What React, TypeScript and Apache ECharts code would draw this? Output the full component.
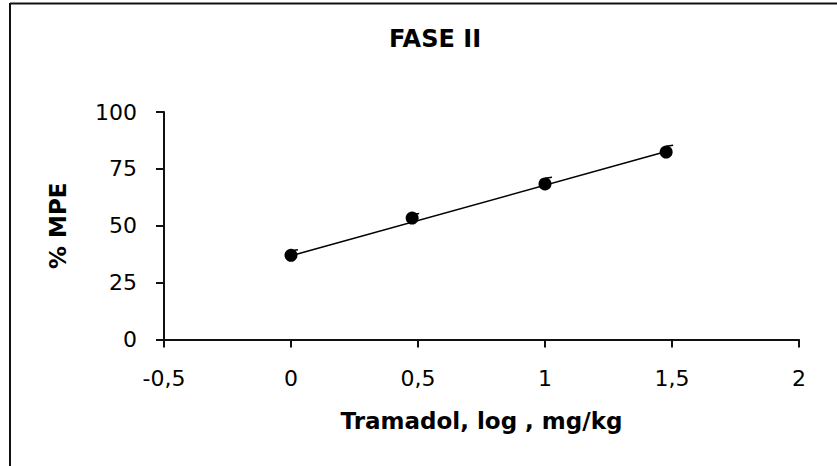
import React, { useEffect, useRef } from "react";
import * as echarts from "echarts";

const doseLog = [0, 0.477, 1, 1.477];
const mpe = [37, 53.4, 68.4, 82.4];
const mpeErr = [2, 1.5, 2.5, 2.5];
const trendX = [0, 1.477];
const trendY = [36.8, 82.6];
const titleText = "FASE II";
const xName = "Tramadol, log , mg/kg";
const yName = "% MPE";

export default function App() {
  const ref = useRef<HTMLDivElement>(null);
  useEffect(() => {
    if (!ref.current) return;
    const chart = echarts.init(ref.current, null, { renderer: "svg" });
    const points = doseLog.map((x, i) => [x, mpe[i]]);
    const errData = doseLog.map((x, i) => [x, mpe[i], mpe[i] + mpeErr[i]]);
    const trend = trendX.map((x, i) => [x, trendY[i]]);
    chart.setOption({
      animation: false,
      backgroundColor: "#ffffff",
      title: {
        text: titleText,
        left: 430,
        top: 22,
        textAlign: "center",
        textStyle: { fontFamily: "DejaVu Sans", fontWeight: "bold", fontSize: 24, color: "#000" },
      },
      grid: { left: 164, right: 38, top: 112, bottom: 126.5, containLabel: false },
      xAxis: {
        type: "value",
        min: -0.5,
        max: 2,
        interval: 0.5,
        name: xName,
        nameLocation: "middle",
        nameGap: 70,
        nameTextStyle: { fontFamily: "DejaVu Sans", fontWeight: "bold", fontSize: 23, color: "#000" },
        axisLine: { show: true, onZero: false, lineStyle: { color: "#111", width: 2 } },
        axisTick: { show: true, length: 8, lineStyle: { color: "#111", width: 2 } },
        axisLabel: {
          margin: 28,
          fontFamily: "DejaVu Sans",
          fontSize: 22,
          color: "#000",
          formatter: (v: number) => String(v).replace(".", ","),
        },
        splitLine: { show: false },
      },
      yAxis: {
        type: "value",
        min: 0,
        max: 100,
        interval: 25,
        name: yName,
        nameLocation: "middle",
        nameGap: 95,
        nameRotate: 90,
        nameTextStyle: { fontFamily: "DejaVu Sans", fontWeight: "bold", fontSize: 23, color: "#000" },
        axisLine: { show: true, onZero: false, lineStyle: { color: "#111", width: 2 } },
        axisTick: { show: true, length: 8, lineStyle: { color: "#111", width: 2 } },
        axisLabel: { margin: 27, fontFamily: "DejaVu Sans", fontSize: 22, color: "#000" },
        splitLine: { show: false },
      },
      graphic: [
        { type: "line", shape: { x1: 10, y1: 3, x2: 10, y2: 466 }, style: { stroke: "#111", lineWidth: 2 } },
        { type: "line", shape: { x1: 10, y1: 3.5, x2: 837, y2: 3.5 }, style: { stroke: "#111", lineWidth: 2 } },
      ],
      series: [
        {
          type: "custom",
          z: 1,
          data: errData,
          renderItem: (params: any, api: any) => {
            const p0 = api.coord([api.value(0), api.value(1)]);
            const p1 = api.coord([api.value(0), api.value(2)]);
            return {
              type: "group",
              children: [
                { type: "line", shape: { x1: p0[0], y1: p0[1], x2: p1[0], y2: p1[1] }, style: { stroke: "#000", lineWidth: 1.5 } },
                { type: "line", shape: { x1: p1[0], y1: p1[1], x2: p1[0] + 7, y2: p1[1] - 1 }, style: { stroke: "#000", lineWidth: 1.5 } },
              ],
            };
          },
        },
        {
          type: "line",
          z: 2,
          data: trend,
          showSymbol: false,
          symbol: "none",
          lineStyle: { color: "#000", width: 1.5 },
        },
        {
          type: "scatter",
          z: 3,
          data: points,
          symbol: "circle",
          symbolSize: 13,
          itemStyle: { color: "#000", opacity: 1 },
        },
      ],
    });
    return () => chart.dispose();
  }, []);
  return <div ref={ref} style={{ position: "fixed", left: 0, top: 0, width: 837, height: 466 }} />;
}
